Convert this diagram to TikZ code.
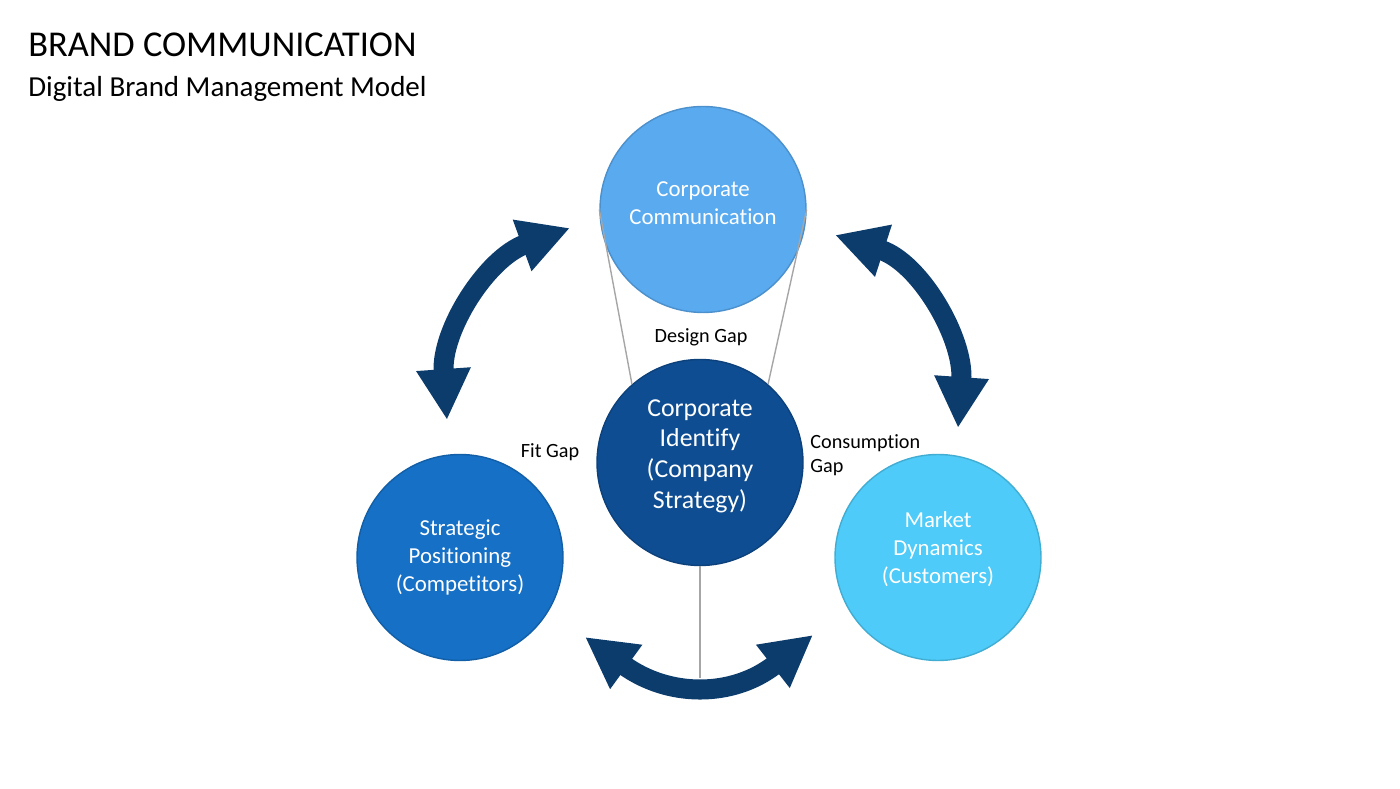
\documentclass[tikz,border=0pt]{standalone}
\usepackage{fontspec}
\setmainfont{Carlito}[Ligatures=NoCommon]
\usetikzlibrary{arrows.meta}

\definecolor{commblue}{HTML}{5AAAF0}
\definecolor{coreblue}{HTML}{0E4D92}
\definecolor{stratblue}{HTML}{1570C6}
\definecolor{marketblue}{HTML}{4ECBF8}
\definecolor{arrowblue}{HTML}{0C3C6C}
\definecolor{gapgray}{HTML}{A6A6A6}

\tikzset{
  bubble/.style={circle, fill=#1, draw=#1!85!black, line width=0.8pt,
    minimum size=4.12cm, inner sep=0pt, text=white, align=center,
    font=\fontsize{13}{16}\selectfont},
  cycle arrow/.style={draw=arrowblue, line width=11.4pt,
    {Triangle[width=29pt,length=29pt]}-{Triangle[width=29pt,length=29pt]}},
  gap line/.style={draw=gapgray, line width=0.8pt},
  gap label/.style={font=\fontsize{11.5}{13.7}\selectfont, inner sep=0pt},
}

\begin{document}
\begin{tikzpicture}
  \useasboundingbox (0,0) rectangle (28,15.76);

  % heading
  \node[anchor=base west, inner sep=0pt, font=\fontsize{20.7}{24}\selectfont]
    (title) at (0.56,14.62) {BRAND COMMUNICATION};
  \node[anchor=base west, inner sep=0pt, font=\fontsize{16.5}{20}\selectfont]
    (subtitle) at (0.56,13.82) {Digital Brand Management Model};

  % the four circles
  \node[bubble=commblue] (comm) at (14.06,11.57) {Corporate\\Communication\\[-0.3cm]};
  \node[bubble=coreblue, font=\fontsize{14.7}{17.6}\selectfont]
    (core) at (14,6.51) {Corporate\\Identify\\(Company\\Strategy)\\[-0.28cm]};
  \node[bubble=stratblue] (strat) at (9.2,4.61) {Strategic\\Positioning\\(Competitors)};
  \node[bubble=marketblue] (market) at (18.76,4.61) {Market\\Dynamics\\(Customers)\\[-0.17cm]};

  % gaps
  \node[gap label, anchor=base] (design) at (14.02,8.9) {Design Gap};
  \node[gap label, anchor=base] (fit) at (11.0,6.6) {Fit Gap};
  \node[gap label, anchor=base west, align=left] (consume) at (16.2,6.3) {Consumption\\Gap};

  \coordinate (gapend) at (14,2.2);
  \draw[gap line] (comm.west) -- (core.131);
  \draw[gap line] (comm.east) -- (core.49);
  \draw[gap line] (core.south) -- (gapend);

  % curved double arrows
  \coordinate (lefttop) at (11.4,11.2);
  \coordinate (leftbot) at (8.94,7.36);
  \coordinate (righttop) at (16.7,11.06);
  \coordinate (rightbot) at (19.16,7.2);
  \coordinate (botleft) at (11.7,3.02);
  \coordinate (botright) at (16.26,3.06);

  \draw[cycle arrow] (lefttop) to[out=200,in=94] (leftbot);
  \draw[cycle arrow] (righttop) to[out=-18,in=86] (rightbot);
  \draw[cycle arrow] (botleft) to[out=-36,in=218,looseness=1.15] (botright);
\end{tikzpicture}
\end{document}
